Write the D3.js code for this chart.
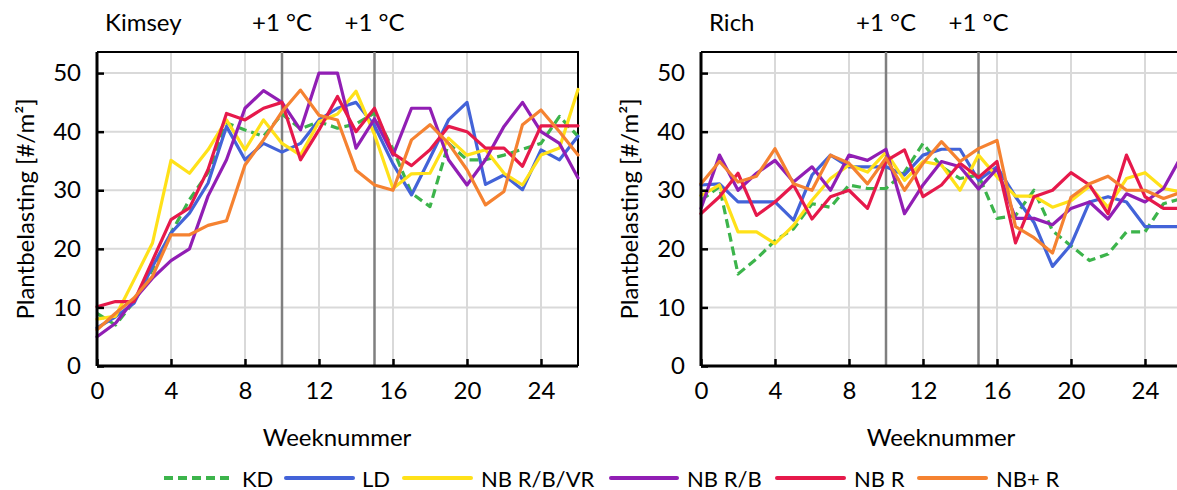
<!DOCTYPE html>
<html>
<head>
<meta charset="utf-8">
<script src="https://cdn.jsdelivr.net/npm/d3@7"></script>
<style>
  body { margin: 0; background: #fff; }
  svg { display: block; }
  text { font-family: Lato, "Liberation Sans", sans-serif; fill: #000; }
</style>
</head>
<body>
<svg id="chart" width="1177" height="490"></svg>
<script>
// Weekly plant load per treatment, two varieties
const weeks = d3.range(0, 27);
const seriesNames = ["KD", "LD", "NB R/B/VR", "NB R/B", "NB R", "NB+ R"];
const seriesColors = ["#3cb44b", "#4363d8", "#ffe119", "#911eb4", "#e6194b", "#f58231"];
const yTicks = [0, 10, 20, 30, 40, 50];
const xTicks = [0, 4, 8, 12, 16, 20, 24];
const markerWeeks = [10, 15];
const markerLabel = "+1 °C";

const kimseyKD      = [9, 7, 11, 16.5, 22.7, 28.4, 33, 41.5, 40.3, 39.2, 43, 40.5, 41.7, 40.6, 41.3, 43.2, 37, 29.5, 27.2, 38, 35.2, 35.2, 36, 37, 38, 42.6, 39.2];
const kimseyLD      = [6.5, 8.4, 10.7, 17, 22.7, 26.1, 31.2, 40.9, 35.2, 38, 36.5, 38, 42, 44, 45, 41, 34.5, 29.2, 35.5, 42, 45, 31, 32.6, 30.1, 36.9, 35.2, 39.2];
const kimseyNBRBVR  = [8, 8.5, 14.7, 21, 35.1, 32.9, 36.9, 42, 36.9, 42, 38, 36, 41.7, 43, 46.9, 39.5, 30.3, 32.8, 32.9, 38.9, 36, 36.9, 32.9, 30.9, 36, 37.2, 47.2];
const kimseyNBRB    = [5, 7.3, 11.3, 15, 18, 20, 29, 35.2, 44, 47, 45, 40.3, 50, 50, 37.2, 42.2, 36, 44, 44, 35.2, 30.9, 35.2, 40.9, 45, 40, 38, 32.1];
const kimseyNBR     = [10.1, 11, 11, 18, 25, 27, 33.5, 43.1, 42, 44, 45, 35.2, 40.3, 46, 40, 44, 36.3, 34.2, 36.9, 40.9, 40, 37.2, 37.2, 34.1, 41, 41, 41];
const kimseyNBplusR = [6.2, 9, 11.6, 15.3, 22.4, 22.4, 24, 24.8, 34.3, 38.6, 43.4, 47.1, 42.8, 42, 33.4, 30.9, 30, 38.6, 41.2, 38, 33.5, 27.5, 29.8, 41.2, 43.7, 40, 36];

const richKD      = [28.3, 30.6, 15.7, 18.3, 21.4, 23.4, 27.7, 27.1, 30.9, 30.3, 30.3, 33.1, 38, 34, 32, 32.6, 25.2, 25.7, 30, 23.1, 20.5, 18, 19.1, 22.9, 22.9, 27.7, 28.6];
const richLD      = [30.9, 31.1, 28, 28, 28, 24.9, 32.6, 36, 34, 34, 34, 32.6, 36, 37, 37, 31.7, 34, 28.9, 24.5, 17, 20.7, 28, 28.9, 28, 23.8, 23.8, 23.8];
const richNBRBVR  = [29.1, 30.9, 22.9, 22.9, 20.9, 24, 28.3, 32, 34.3, 33.1, 36.5, 31.7, 34.9, 34.3, 30, 36, 32.3, 29, 29, 27.1, 28.2, 30.7, 27.1, 32, 33, 30.3, 29.7];
const richNBRB    = [26.9, 36, 30, 32.9, 35.1, 31.4, 34, 30, 36, 35.1, 37, 26, 30.9, 34.9, 34, 30.2, 33.7, 25.2, 25.2, 24.1, 26.9, 28, 25.1, 29.4, 28, 30.3, 36];
const richNBR     = [26, 28.9, 32.9, 25.7, 28, 30.9, 25.1, 28.9, 30, 26.9, 35, 36.9, 28.9, 30.9, 34.6, 32.2, 34.9, 21, 28.9, 30, 33, 30.9, 26, 36, 28.9, 26.9, 26.9];
const richNBplusR = [31.1, 34.9, 31.4, 32.4, 37.1, 31.1, 30, 36, 34.6, 31.1, 35.5, 30, 34.6, 38.3, 34.9, 37.1, 38.5, 23.8, 21.9, 19.3, 28.8, 31.1, 32.4, 30, 30, 28.6, 29.7];

const panels = [
  { title: "Kimsey", left: 97, series: [kimseyKD, kimseyLD, kimseyNBRBVR, kimseyNBRB, kimseyNBR, kimseyNBplusR] },
  { title: "Rich",   left: 701, series: [richKD, richLD, richNBRBVR, richNBRB, richNBR, richNBplusR] }
];

const svg = d3.select("#chart");
const plotTop = 52, plotBottom = 366, plotWidth = 481;
const fontSize = 24;
const legendFontSize = 22;

panels.forEach(p => {
  const x = d3.scaleLinear().domain([0, 26]).range([p.left, p.left + plotWidth]);
  const y = d3.scaleLinear().domain([0, 53.6]).range([plotBottom, plotTop]);
  const g = svg.append("g");

  // grid
  g.selectAll(".hgrid").data(yTicks.filter(d => d > 0)).join("line")
    .attr("x1", x(0)).attr("x2", x(26))
    .attr("y1", d => y(d)).attr("y2", d => y(d))
    .attr("stroke", "#d9d9d9").attr("stroke-width", 2);
  g.selectAll(".vgrid").data(xTicks.filter(d => d > 0)).join("line")
    .attr("x1", d => x(d)).attr("x2", d => x(d))
    .attr("y1", y(0)).attr("y2", plotTop)
    .attr("stroke", "#d9d9d9").attr("stroke-width", 2);

  // frame (top/right)
  g.append("path")
    .attr("d", `M${x(0)},${plotTop}H${x(26)}V${y(0)}`)
    .attr("fill", "none").attr("stroke", "#000").attr("stroke-width", 2);

  // temperature step markers
  g.selectAll(".marker").data(markerWeeks).join("line")
    .attr("x1", d => x(d)).attr("x2", d => x(d))
    .attr("y1", y(0)).attr("y2", plotTop)
    .attr("stroke", "#7f7f7f").attr("stroke-width", 2.5);
  g.selectAll(".markerLabel").data(markerWeeks).join("text")
    .attr("x", d => x(d)).attr("y", 31)
    .attr("text-anchor", "middle").attr("font-size", fontSize)
    .text(markerLabel);

  g.append("text").attr("x", p.left + 8).attr("y", 31)
    .attr("font-size", fontSize).text(p.title);

  // series
  const line = d3.line().x((d, i) => x(weeks[i])).y(d => y(d));
  p.series.forEach((vals, si) => {
    g.append("path").datum(vals)
      .attr("d", line)
      .attr("fill", "none")
      .attr("stroke", seriesColors[si])
      .attr("stroke-width", 3.2)
      .attr("stroke-linejoin", "round")
      .attr("stroke-linecap", si === 0 ? "butt" : "round")
      .attr("stroke-dasharray", si === 0 ? "9,5" : null);
  });

  // axes
  const yAxis = d3.axisLeft(y).tickValues(yTicks).tickSize(-7).tickPadding(16).tickFormat(d3.format("d"));
  const xAxis = d3.axisBottom(x).tickValues(xTicks).tickSize(-7).tickPadding(16).tickFormat(d3.format("d"));
  const ya = g.append("g").attr("transform", `translate(${x(0)},0)`).call(yAxis);
  const xa = g.append("g").attr("transform", `translate(0,${y(0)})`).call(xAxis);
  [ya, xa].forEach(a => {
    a.select(".domain").attr("stroke", "#000").attr("stroke-width", 3);
    a.selectAll(".tick line").attr("stroke", "#000").attr("stroke-width", 2.5);
    a.selectAll(".tick text").attr("font-size", fontSize).attr("font-family", "Lato, sans-serif").attr("fill", "#000");
  });
  ya.select(".domain").attr("d", `M0,${plotTop}V${y(0)}`);
  xa.select(".domain").attr("d", `M${x(0)},0H${x(26)}`);

  g.append("text")
    .attr("transform", `translate(${p.left - 73},${(plotTop + plotBottom) / 2}) rotate(-90)`)
    .attr("text-anchor", "middle").attr("dominant-baseline", "central")
    .attr("font-size", fontSize).text("Plantbelasting [#/m²]");
  g.append("text")
    .attr("x", p.left + 240).attr("y", 446)
    .attr("text-anchor", "middle").attr("font-size", fontSize).text("Weeknummer");
});

// legend
const legendLayout = [
  { x1: 164, x2: 234, tx: 242 },
  { x1: 286, x2: 353, tx: 362 },
  { x1: 404, x2: 471, tx: 481 },
  { x1: 611, x2: 677, tx: 687 },
  { x1: 777, x2: 844, tx: 854 },
  { x1: 919, x2: 986, tx: 996 }
];
const lg = svg.append("g");
seriesNames.forEach((name, i) => {
  const L = legendLayout[i];
  lg.append("line").attr("x1", L.x1).attr("x2", L.x2).attr("y1", 478).attr("y2", 478)
    .attr("stroke", seriesColors[i]).attr("stroke-width", 4)
    .attr("stroke-linecap", i === 0 ? "butt" : "round")
    .attr("stroke-dasharray", i === 0 ? "9,5" : null);
  lg.append("text").attr("x", L.tx).attr("y", 478).attr("dominant-baseline", "central")
    .attr("font-size", legendFontSize).text(name);
});
</script>
</body>
</html>
